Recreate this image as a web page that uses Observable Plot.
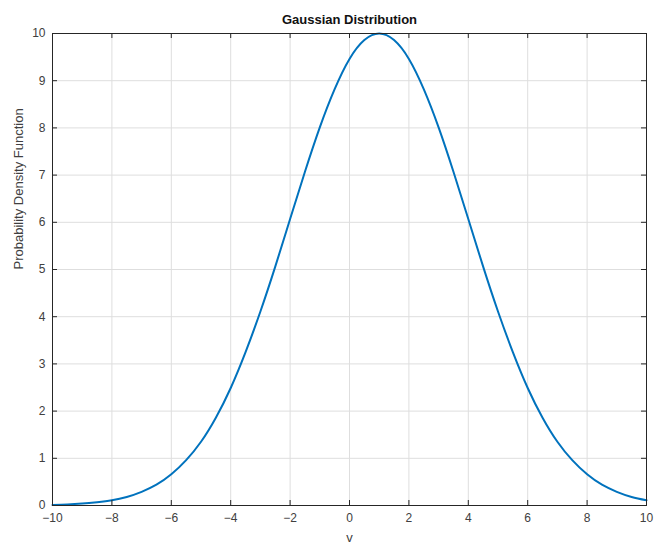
<!DOCTYPE html>
<html>
<head>
<meta charset="utf-8">
<script src="https://cdn.jsdelivr.net/npm/d3@7"></script>
<script src="https://cdn.jsdelivr.net/npm/@observablehq/plot@0.6"></script>
<style>
  html, body { margin: 0; padding: 0; background: #fff; }
  #chart svg { display: block; }
</style>
</head>
<body>
<div id="chart"></div>
<script>
// Values
const vValues = [-10, -9.5, -9, -8.5, -8, -7.5, -7, -6.5, -6, -5.5, -5, -4.5, -4, -3.5, -3, -2.5, -2, -1.5, -1, -0.5,
                 0, 0.5, 1, 1.5, 2, 2.5, 3, 3.5, 4, 4.5, 5, 5.5, 6, 6.5, 7, 7.5, 8, 8.5, 9, 9.5, 10];
const pdfValues = [0.01, 0.02, 0.04, 0.07, 0.11, 0.18, 0.29, 0.44, 0.66, 0.96, 1.35, 1.86, 2.49, 3.25, 4.11, 5.06, 6.07, 7.07, 8.01, 8.82,
                   9.46, 9.86, 10, 9.86, 9.46, 8.82, 8.01, 7.07, 6.07, 5.06, 4.11, 3.25, 2.49, 1.86, 1.35, 0.96, 0.66, 0.44, 0.29, 0.18, 0.11];
const xTicks = [-10, -8, -6, -4, -2, 0, 2, 4, 6, 8, 10];
const yTicks = [0, 1, 2, 3, 4, 5, 6, 7, 8, 9, 10];
const titleText = "Gaussian Distribution";
const xLabel = "v";
const yLabel = "Probability Density Function";

const data = vValues.map((v, i) => ({v, p: pdfValues[i]}));

const W = 655, H = 545;
const mT = 33, mB = 40, mL = 52, mR = 9;
const innerW = W - mL - mR, innerH = H - mT - mB;
const tick = 5;
const font = "'Liberation Sans', Arial, Helvetica, sans-serif";

const chart = Plot.plot({
  width: W,
  height: H,
  marginTop: mT,
  marginBottom: mB,
  marginLeft: mL,
  marginRight: mR,
  style: {fontFamily: font, fontSize: "12px", color: "#404040", background: "#fff"},
  x: {domain: [-10, 10]},
  y: {domain: [0, 10]},
  marks: [
    Plot.gridX(xTicks, {stroke: "#dedede", strokeOpacity: 1}),
    Plot.gridY(yTicks, {stroke: "#dedede", strokeOpacity: 1}),
    Plot.line(data, {x: "v", y: "p", stroke: "#0072BD", strokeWidth: 2, curve: "natural"}),
    Plot.frame({stroke: "#262626", strokeWidth: 1}),
    Plot.ruleX(xTicks, {x: d => d, stroke: "#262626", insetTop: innerH - tick}),
    Plot.ruleX(xTicks, {x: d => d, stroke: "#262626", insetBottom: innerH - tick}),
    Plot.ruleY(yTicks, {y: d => d, stroke: "#262626", insetRight: innerW - tick}),
    Plot.ruleY(yTicks, {y: d => d, stroke: "#262626", insetLeft: innerW - tick}),
    Plot.axisX(xTicks, {tickSize: 0, tickPadding: 8, label: null, fill: "#404040", fontSize: 12}),
    Plot.axisY(yTicks, {tickSize: 0, tickPadding: 7, label: null, fill: "#404040", fontSize: 12}),
    Plot.text([titleText], {text: d => d, frameAnchor: "top", lineAnchor: "middle", dy: -14, fontWeight: "bold", fontSize: 13, fill: "#111"}),
    Plot.text([xLabel], {text: d => d, frameAnchor: "bottom", lineAnchor: "middle", dy: 32, fontSize: 13, fill: "#404040"}),
    Plot.text([yLabel], {text: d => d, frameAnchor: "left", dx: -34, rotate: -90, fontSize: 13, fill: "#404040"})
  ]
});
document.getElementById("chart").appendChild(chart);
</script>
</body>
</html>
